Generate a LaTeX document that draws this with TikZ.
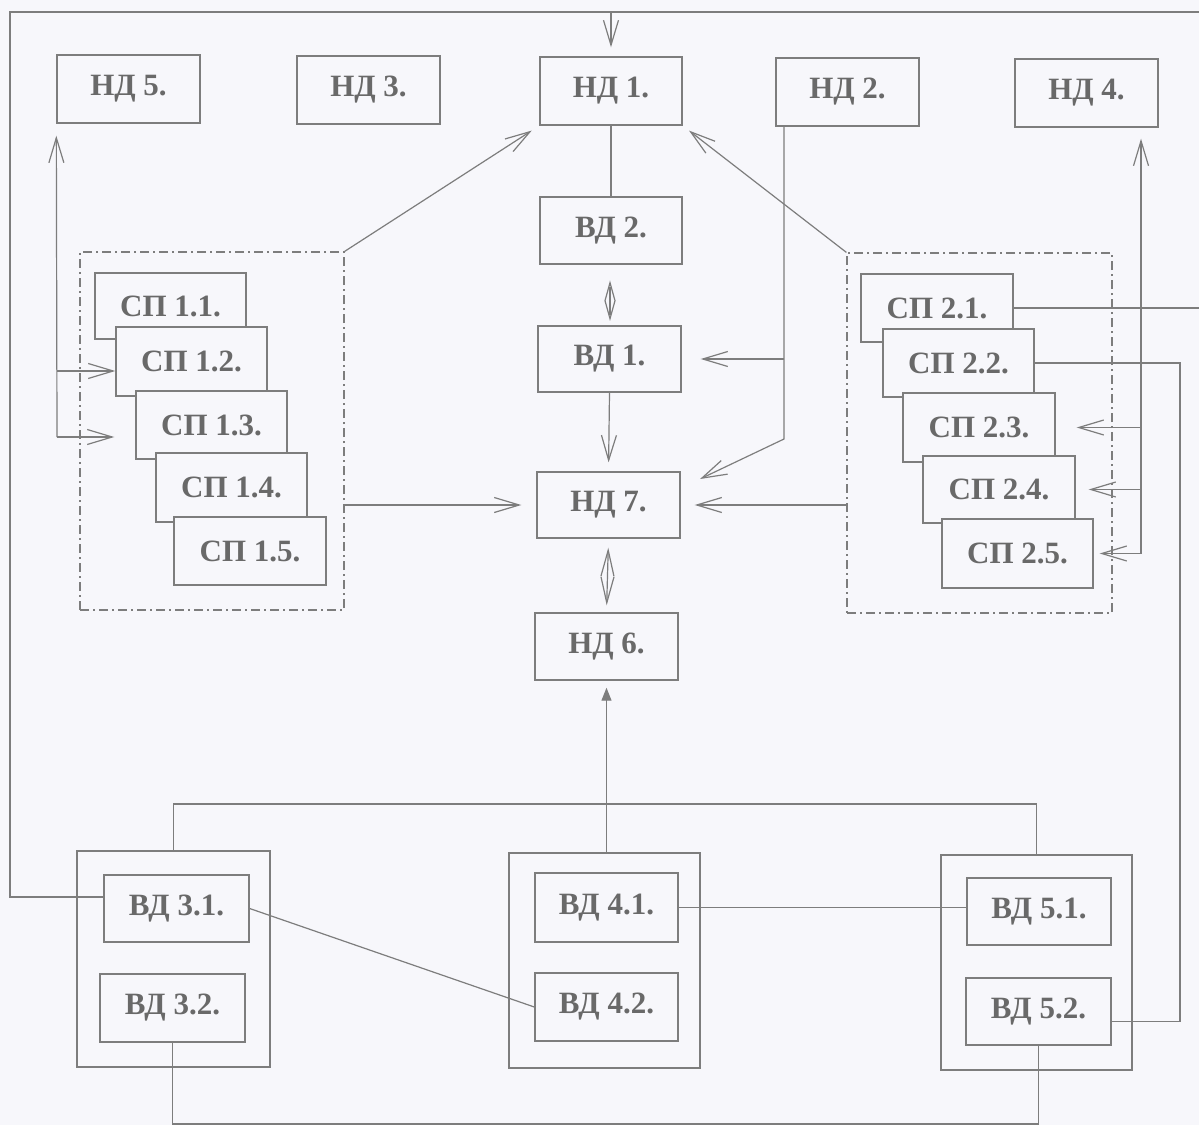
\documentclass[tikz,border=0pt]{standalone}
\usepackage{fontspec}
\setmainfont{Liberation Serif}
\usetikzlibrary{arrows.meta,calc}
\definecolor{bgc}{RGB}{247,247,251}
\definecolor{ink}{RGB}{125,125,125}
\definecolor{txt}{RGB}{105,105,105}
\tikzset{
  box/.style={draw=ink, line width=1.4pt, fill=bgc, text=txt, font=\fontsize{31}{33}\selectfont\bfseries, inner sep=0pt},
  ln/.style={draw=ink, line width=1.2pt},
  arr/.style={ln, -{Straight Barb[length=25pt,width=15pt]}},
  darr/.style={ln, {Straight Barb[length=26pt,width=13pt]}-{Straight Barb[length=26pt,width=13pt]}},
  farr/.style={ln, -{Triangle[length=13pt,width=10pt]}},
  grp/.style={fill=none, line width=1.2pt, dash pattern=on 9pt off 4pt on 2pt off 4pt},
}
\newcommand\mybox[7][]{\node[box,#1,minimum width={#5pt-#3pt},minimum height={#6pt-#4pt}] (#2) at ({(#3+#5)/2},{(#4+#6)/2}) {#7};}
\begin{document}
\begin{tikzpicture}[x=1pt,y=-1pt]
\fill[bgc] (0,0) rectangle (1199,1125);
\useasboundingbox (0,0) rectangle (1199,1125);

% top row
\mybox{nd5}{57}{55}{200}{123}{НД 5.}
\mybox{nd3}{297}{56}{440}{124}{НД 3.}
\mybox{nd1}{540}{57}{682}{125}{НД 1.}
\mybox{nd2}{776}{58}{919}{126}{НД 2.}
\mybox{nd4}{1015}{59}{1158}{127}{НД 4.}

% centre column
\mybox{vd2}{540}{197}{682}{264}{ВД 2.}
\mybox{vd1}{538}{326}{681}{392}{ВД 1.}
\mybox{nd7}{537}{472}{680}{538}{НД 7.}
\mybox{nd6}{535}{613}{678}{680}{НД 6.}

% groups
\mybox[grp]{g1}{80}{252}{344}{610}{}
\mybox[grp]{g2}{847}{253}{1112}{613}{}
\mybox{sp11}{95}{273}{246}{339}{СП 1.1.}
\mybox{sp12}{116}{327}{267}{396}{СП 1.2.}
\mybox{sp13}{136}{391}{287}{459}{СП 1.3.}
\mybox{sp14}{156}{453}{307}{522}{СП 1.4.}
\mybox{sp15}{174}{517}{326}{585}{СП 1.5.}
\mybox{sp21}{861}{274}{1013}{342}{СП 2.1.}
\mybox{sp22}{883}{329}{1034}{397}{СП 2.2.}
\mybox{sp23}{903}{393}{1055}{462}{СП 2.3.}
\mybox{sp24}{923}{456}{1075}{523}{СП 2.4.}
\mybox{sp25}{942}{519}{1093}{588}{СП 2.5.}

% bottom groups
\mybox[fill=none]{vd3o}{77}{851}{270}{1067}{}
\mybox[fill=none]{vd4o}{509}{853}{700}{1068}{}
\mybox[fill=none]{vd5o}{941}{855}{1132}{1070}{}
\mybox{vd31}{104}{875}{249}{942}{ВД 3.1.}
\mybox{vd32}{100}{974}{245}{1042}{ВД 3.2.}
\mybox{vd41}{535}{873}{678}{942}{ВД 4.1.}
\mybox{vd42}{535}{973}{678}{1041}{ВД 4.2.}
\mybox{vd51}{967}{878}{1111}{945}{ВД 5.1.}
\mybox{vd52}{966}{978}{1111}{1045}{ВД 5.2.}

% helper coordinates
\coordinate (ltop) at (10,12);
\coordinate (rtop) at (1199,12);
\coordinate (lbr) at (10,897);
\coordinate (bus) at (0,804);
\coordinate (bot) at (0,1124);
\coordinate (redge) at (1199,0);
\coordinate (rv) at (1180,0);
\coordinate (v4) at (1141,0);
\coordinate (n2) at (784,0);
\coordinate (n2k) at (784,439);
\coordinate (n7in) at (700,479);
\coordinate (l1) at (57,371);
\coordinate (l2) at (57,437);

% top feedback loop
\draw[ln] (vd31.west |- lbr) -- (lbr) -- (ltop) -- (rtop);
\draw[arr, shorten >=9pt] (nd1.north |- ltop) -- (nd1.north);

% centre column
\draw[ln] (nd1.south) -- (vd2.north);
\draw[ln] ($(vd2.south)+(-1,18)$) -- ++(5,18) -- ++(-5,18) -- ++(-5,-18) -- cycle;
\draw[ln] ($(vd2.south)+(-1,22)$) -- ++(0,28);
\draw[arr, shorten >=9pt] (vd1.south) -- (nd7.north);
\draw[darr, shorten <=9pt, shorten >=7pt] (nd7.south) -- (nd6.north);
\draw[farr, shorten >=7pt] (nd6.south |- vd4o.north) -- (nd6.south);

% bus and bottom lines
\draw[ln] (vd3o.north) -- (vd3o.north |- bus) -- (vd5o.north |- bus) -- (vd5o.north);
\draw[ln] (vd31.east) -- (vd42.west);
\draw[ln] (vd41.east) -- (vd41.east -| vd51.west);
\draw[ln] (vd32.south) -- (vd32.south |- bot) -- (vd52.south |- bot) -- (vd52.south);
\draw[ln] (sp22.east) -- (sp22.east -| rv) -- ($(rv |- vd52.east)+(0,10)$) -- ($(vd52.east)+(0,10)$);
\draw[ln] (sp21.east) -- (sp21.east -| redge);

% НД4 feed
\draw[arr, shorten >=11pt] (v4 |- sp25.east) -- (v4 |- nd4.south);
\draw[arr, shorten >=21pt] (v4 |- sp23.east) -- (sp23.east);
\draw[arr, shorten >=13pt] (v4 |- sp24.east) -- (sp24.east);
\draw[arr, shorten >=6pt] (v4 |- sp25.east) -- (sp25.east);

% НД5 feed
\draw[arr, shorten >=12pt] (l2) -- (nd5.south west);
\draw[arr] (l1) -- (l1 -| sp12.west);
\draw[arr, shorten >=21pt] (l2) -- (l2 -| sp13.west);

% groups to НД1 and НД7
\draw[arr, shorten >=9pt] (g1.north east) -- (nd1.south west);
\draw[arr, shorten >=15pt] (g1.east |- nd7.west) -- (nd7.west);
\draw[arr, shorten >=8pt] (g2.north west) -- (nd1.south east);
\draw[arr, shorten >=14pt] (g2.west |- nd7.east) -- (nd7.east);

% НД2 lines
\draw[arr] (n2 |- nd2.south) -- (n2k) -- (n7in);
\draw[arr, shorten >=19pt] (n2 |- vd1.east) -- (vd1.east);
\end{tikzpicture}
\end{document}
